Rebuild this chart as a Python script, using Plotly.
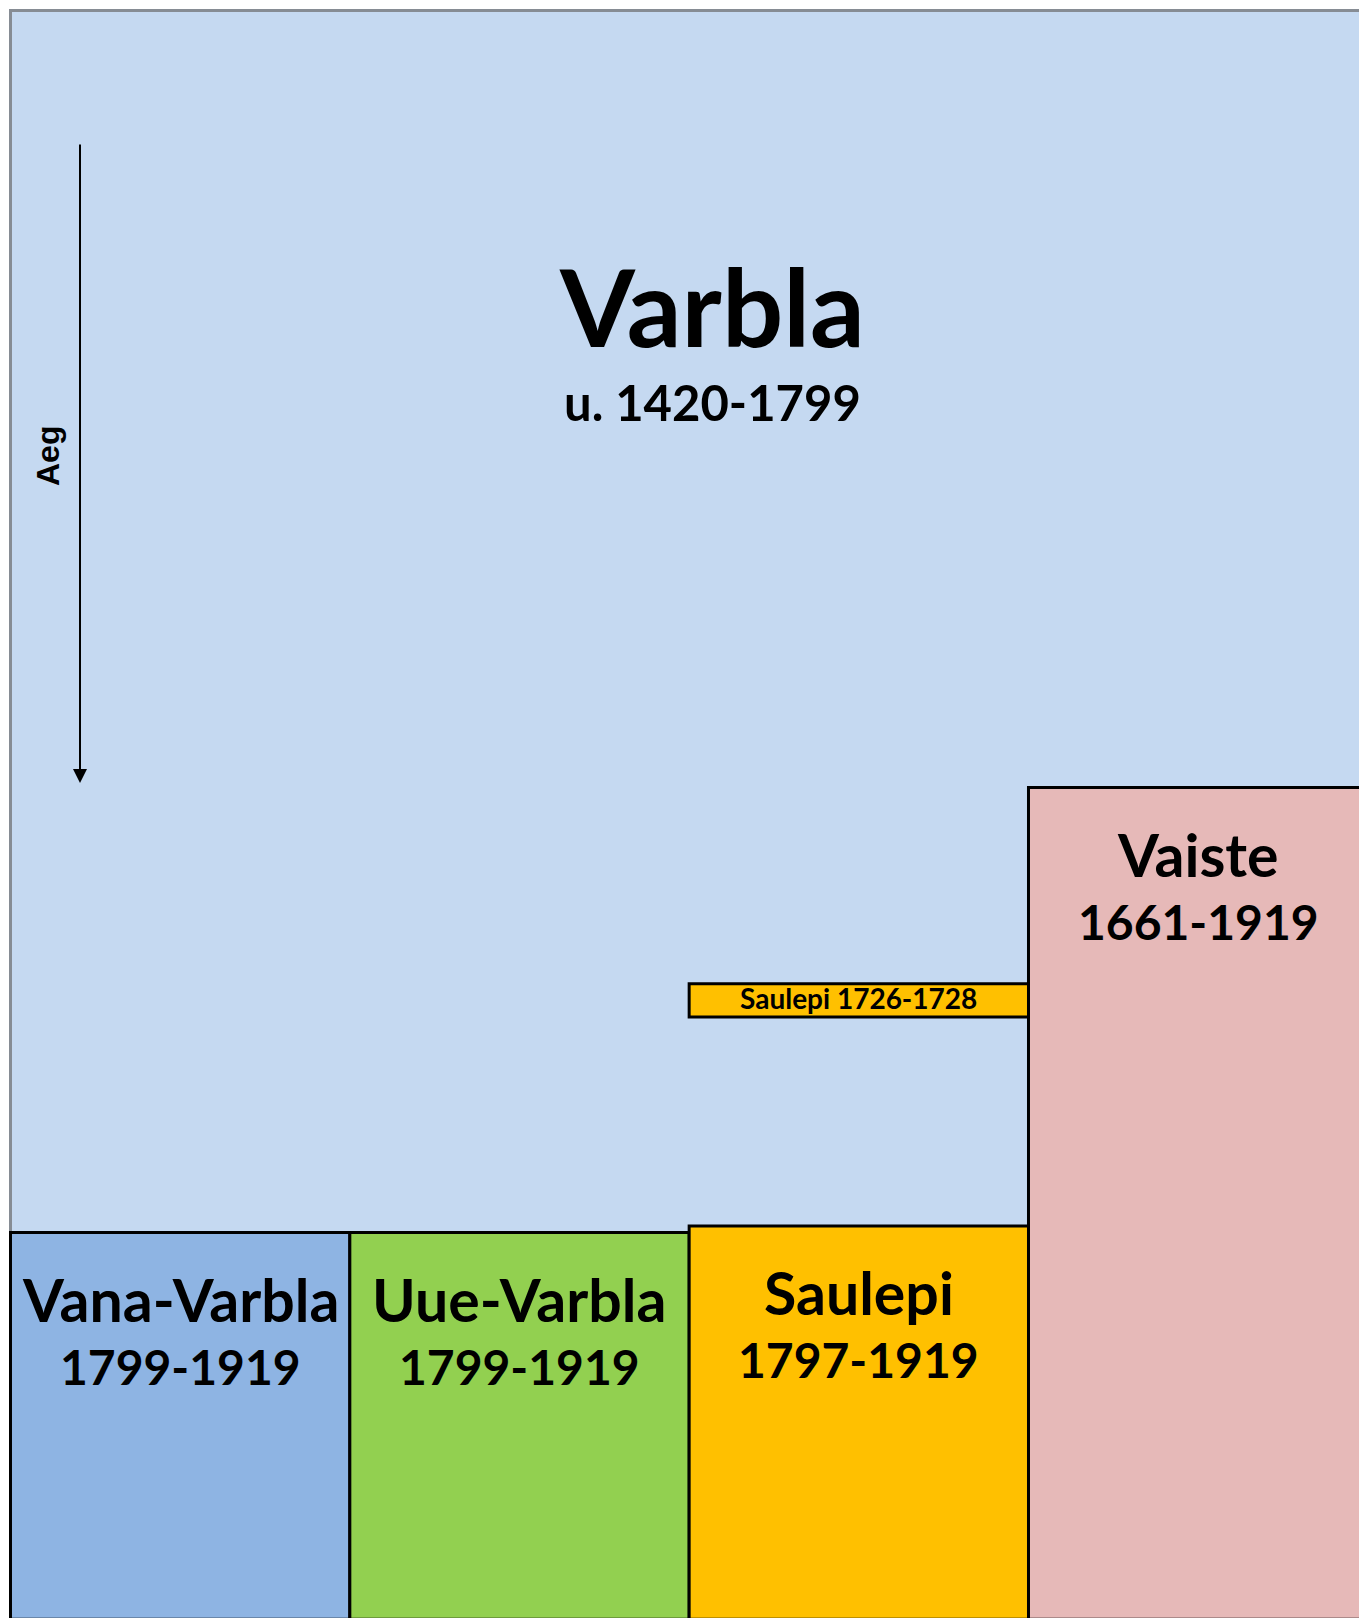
import plotly.graph_objects as go

# ---------------- data ----------------
names = ["Varbla", "Vaiste", "Saulepi", "Vana-Varbla", "Uue-Varbla", "Saulepi"]
start_years = [1420, 1661, 1726, 1799, 1799, 1797]
end_years = [1799, 1919, 1728, 1919, 1919, 1919]
year_labels = ["u. 1420-1799", "1661-1919", "1726-1728", "1799-1919", "1799-1919", "1797-1919"]
col_start = [0, 3, 2, 0, 1, 2]
col_end = [4, 4, 3, 1, 2, 3]

# ---------------- style ----------------
colors = ["#C5D9F1", "#E6B9B8", "#FFC000", "#8EB4E3", "#92D050", "#FFC000"]
edge_colors = ["#868C94", "black", "black", "black", "black", "black"]
EDGE_W = 3
BAR_MIN_YEARS = 10.3      # minimum drawn thickness for very short periods
FONT = "Lato"

W, H = 1359, 1618
ML, MT = 9, 9

fig = go.Figure()
fig.add_trace(go.Scatter(x=[], y=[], showlegend=False, hoverinfo="skip"))

for i in range(len(names)):
    y0, y1 = start_years[i], end_years[i]
    if y1 - y0 < BAR_MIN_YEARS:
        mid = (y0 + y1) / 2
        y0, y1 = mid - BAR_MIN_YEARS / 2, mid + BAR_MIN_YEARS / 2
    fig.add_shape(type="rect", xref="x", yref="y",
                  x0=col_start[i], x1=col_end[i], y0=y0, y1=y1,
                  fillcolor=colors[i], line=dict(color=edge_colors[i], width=EDGE_W),
                  layer="above")

def label(text, x, y, size, yshift=0, xshift=0):
    fig.add_annotation(x=x, y=y, xref="x", yref="y", text=text, showarrow=False,
                       xanchor="center", yanchor="middle", xshift=xshift, yshift=yshift,
                       font=dict(family=FONT, size=size, color="black", weight="bold"))

for i in range(len(names)):
    xc = (col_start[i] + col_end[i]) / 2
    if i == 0:
        label(names[i], xc, start_years[i], 108, yshift=-294, xshift=23)
        label(year_labels[i], xc, start_years[i], 49, yshift=-391, xshift=23)
    elif end_years[i] - start_years[i] < BAR_MIN_YEARS:
        label(f"{names[i]} {year_labels[i]}", xc, (start_years[i] + end_years[i]) / 2, 28, yshift=2)
    else:
        label(names[i], xc, start_years[i], 59, yshift=-67)
        label(year_labels[i], xc, start_years[i], 48, yshift=-134)

PW, PH = W - ML, H - MT
# time arrow
fig.add_annotation(x=(80 - ML) / PW, y=1 - (783 - MT) / PH, xref="paper", yref="paper",
                   text="", showarrow=True, ax=0, ay=-640, axref="pixel", ayref="pixel",
                   arrowhead=2, arrowsize=1.4, arrowwidth=2, arrowcolor="black", standoff=0)
fig.add_annotation(x=(48 - ML) / PW, y=1 - (456 - MT) / PH, xref="paper", yref="paper",
                   xanchor="center", yanchor="middle",
                   text="Aeg", showarrow=False, textangle=-90,
                   font=dict(family="Liberation Sans", size=32, color="black", weight="bold"))

fig.update_layout(
    width=W, height=H,
    margin=dict(l=ML, r=0, t=MT, b=0, pad=0),
    paper_bgcolor="white", plot_bgcolor="white", showlegend=False,
    xaxis=dict(range=[-0.0044, 3.974], visible=False, fixedrange=True),
    yaxis=dict(range=[1918.6, 1419.53], visible=False, fixedrange=True),
)

fig.write_html("out.html", config={"displayModeBar": False},
               post_script="document.body.style.margin='0';document.body.style.overflow='hidden';")
